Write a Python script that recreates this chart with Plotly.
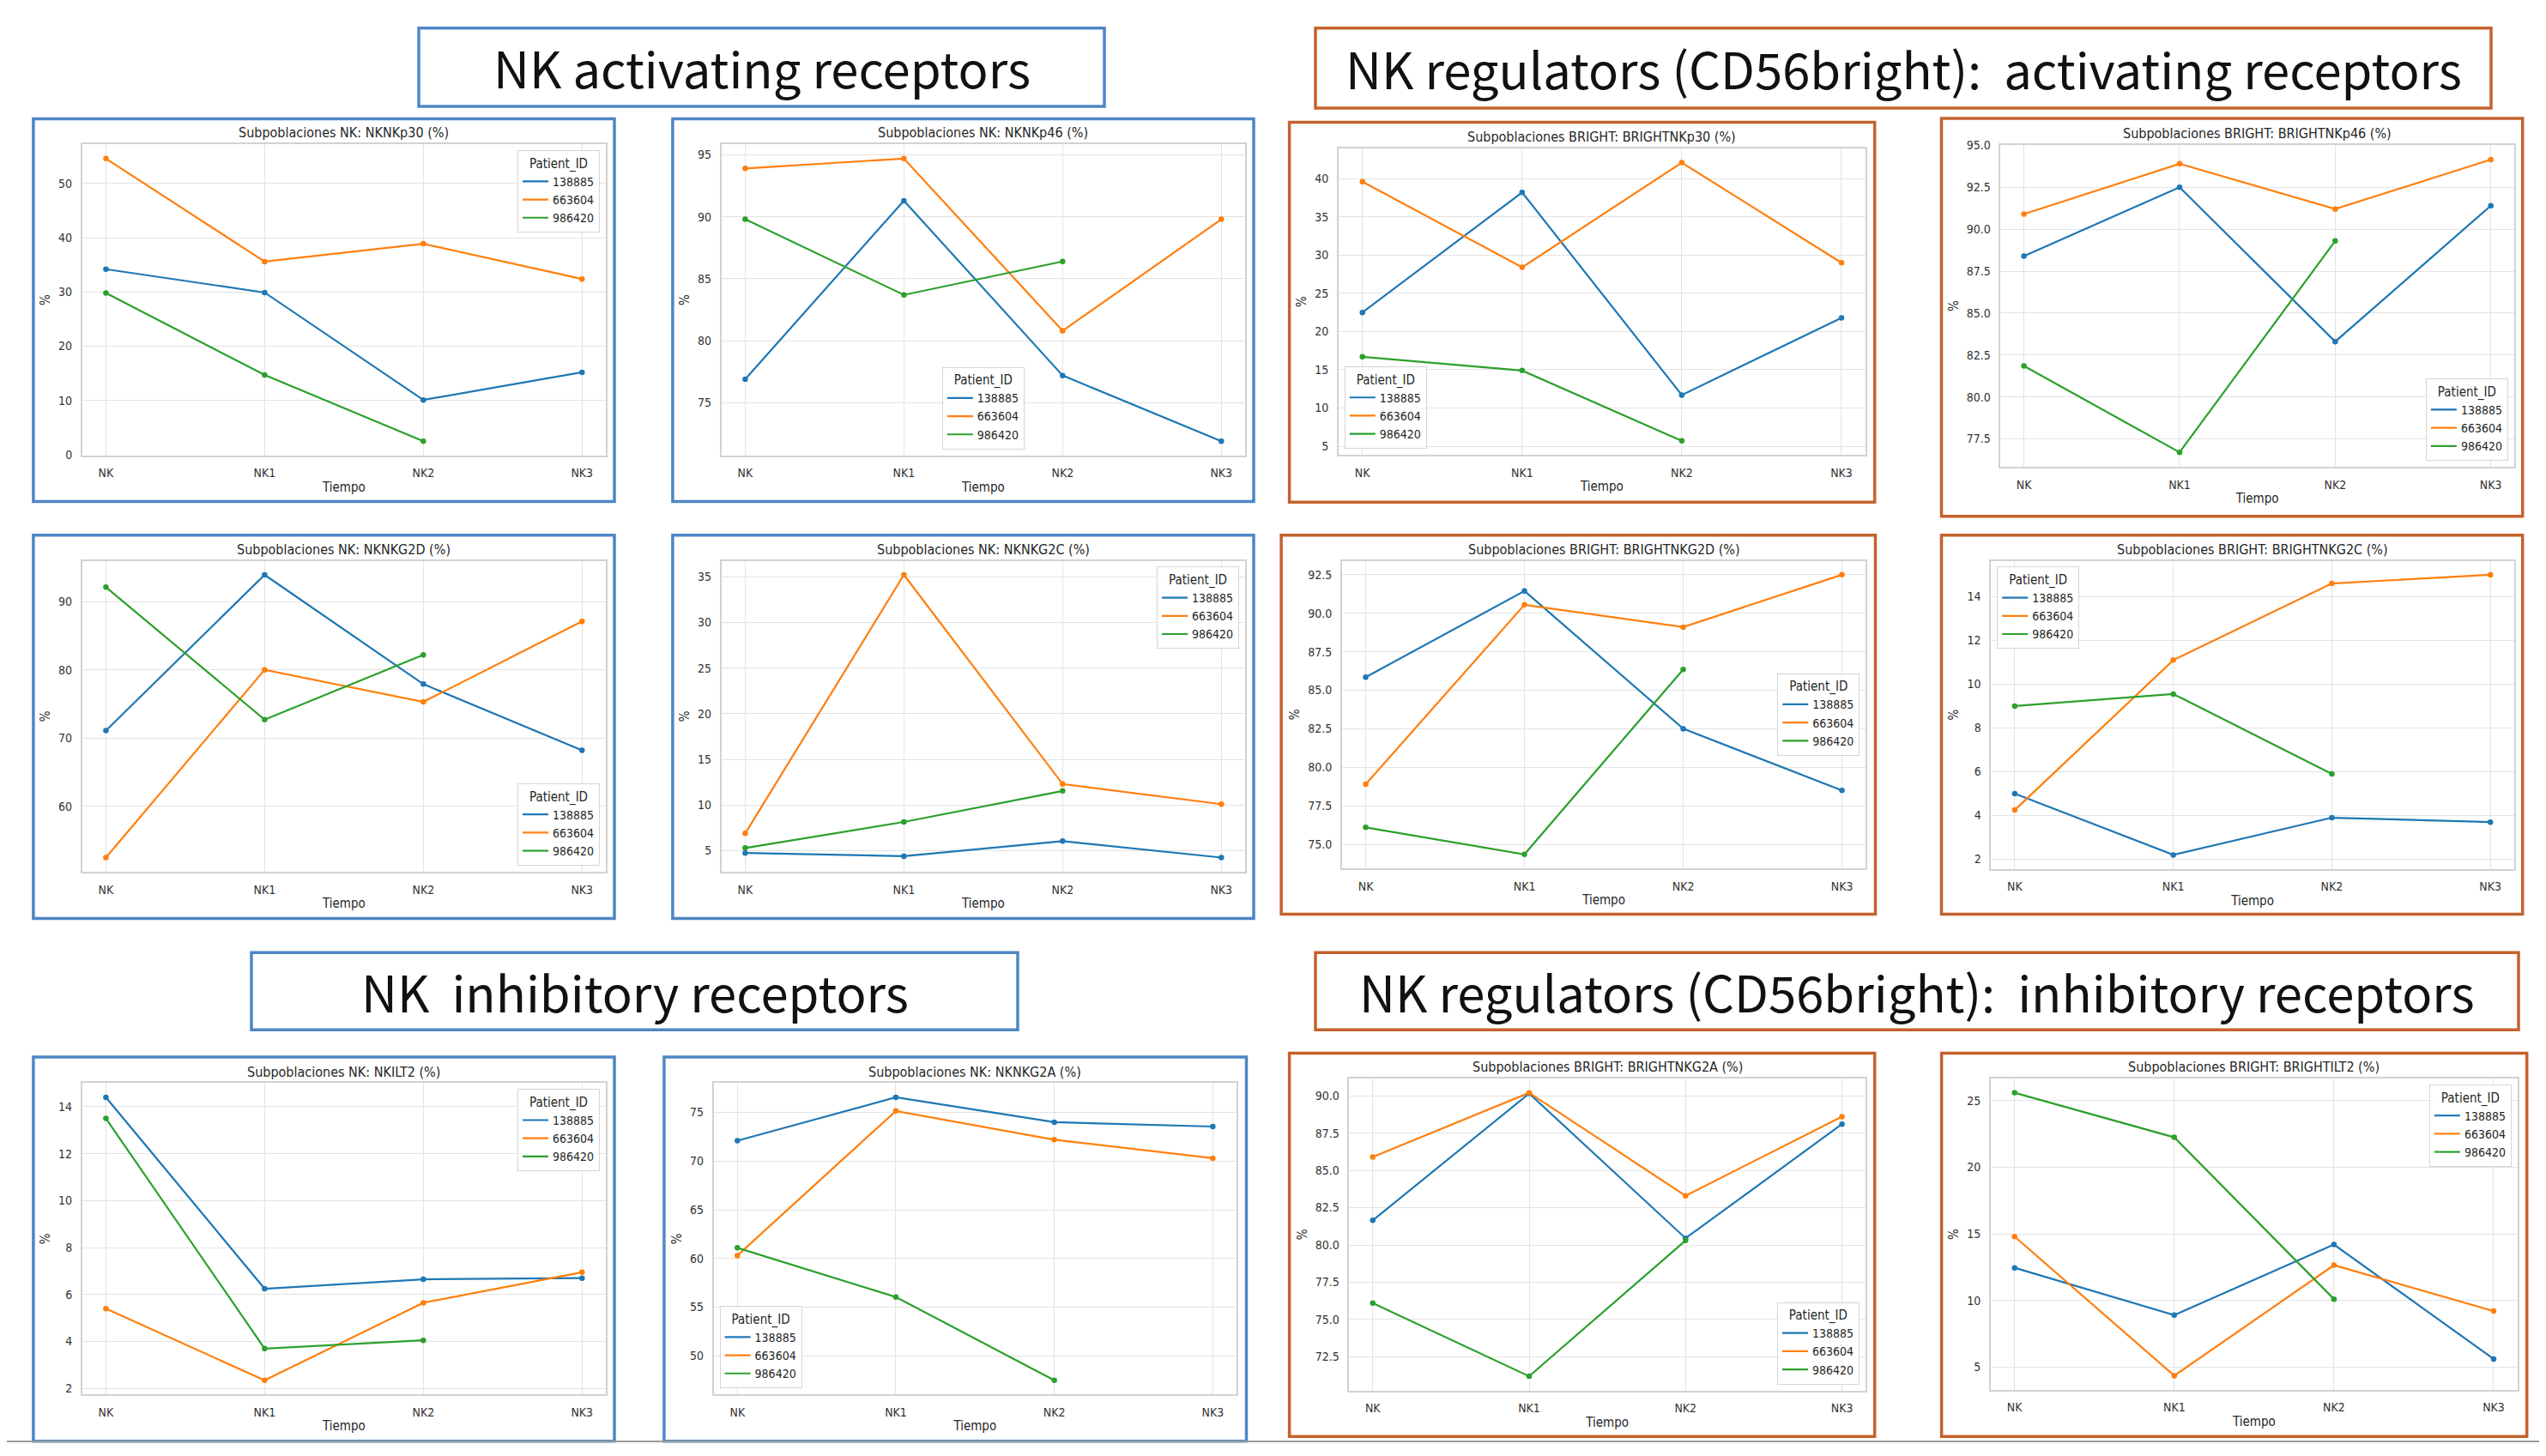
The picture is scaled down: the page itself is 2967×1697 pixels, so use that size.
import plotly.graph_objects as go

# ---------------- data ----------------
categories = ["NK", "NK1", "NK2", "NK3"]
patient_ids = ["138885", "663604", "986420"]

NKNKp30_138885 = [34.2, 29.9, 10.1, 15.2]
NKNKp30_663604 = [54.6, 35.6, 38.9, 32.4]
NKNKp30_986420 = [29.8, 14.7, 2.5, None]

NKNKp46_138885 = [76.9, 91.3, 77.2, 71.9]
NKNKp46_663604 = [93.9, 94.7, 80.8, 89.8]
NKNKp46_986420 = [89.8, 83.7, 86.4, None]

BRIGHTNKp30_138885 = [22.5, 38.2, 11.7, 21.8]
BRIGHTNKp30_663604 = [39.6, 28.4, 42.1, 29.0]
BRIGHTNKp30_986420 = [16.7, 14.9, 5.7, None]

BRIGHTNKp46_138885 = [88.4, 92.5, 83.3, 91.4]
BRIGHTNKp46_663604 = [90.9, 93.9, 91.2, 94.15]
BRIGHTNKp46_986420 = [81.85, 76.7, 89.3, None]

NKNKG2D_138885 = [71.1, 93.9, 77.9, 68.2]
NKNKG2D_663604 = [52.5, 80.0, 75.3, 87.1]
NKNKG2D_986420 = [92.1, 72.7, 82.2, None]

NKNKG2C_138885 = [4.75, 4.4, 6.05, 4.25]
NKNKG2C_663604 = [6.9, 35.2, 12.3, 10.1]
NKNKG2C_986420 = [5.3, 8.15, 11.55, None]

BRIGHTNKG2D_138885 = [85.85, 91.45, 82.5, 78.5]
BRIGHTNKG2D_663604 = [78.9, 90.55, 89.1, 92.5]
BRIGHTNKG2D_986420 = [76.1, 74.35, 86.35, None]

BRIGHTNKG2C_138885 = [5.0, 2.2, 3.9, 3.7]
BRIGHTNKG2C_663604 = [4.25, 11.1, 14.6, 15.0]
BRIGHTNKG2C_986420 = [9.0, 9.55, 5.9, None]

NKILT2_138885 = [14.4, 6.25, 6.65, 6.7]
NKILT2_663604 = [5.4, 2.35, 5.65, 6.95]
NKILT2_986420 = [13.5, 3.7, 4.05, None]

NKNKG2A_138885 = [72.1, 76.55, 74.0, 73.55]
NKNKG2A_663604 = [60.3, 75.15, 72.2, 70.3]
NKNKG2A_986420 = [61.1, 56.05, 47.5, None]

BRIGHTNKG2A_138885 = [81.65, 90.15, 80.45, 88.1]
BRIGHTNKG2A_663604 = [85.9, 90.2, 83.3, 88.6]
BRIGHTNKG2A_986420 = [76.1, 71.2, 80.3, None]

BRIGHTILT2_138885 = [12.45, 8.9, 14.2, 5.6]
BRIGHTILT2_663604 = [14.8, 4.35, 12.65, 9.2]
BRIGHTILT2_986420 = [25.6, 22.25, 10.1, None]

header_texts = [
    "NK activating receptors",
    "NK regulators (CD56bright):\u00a0 activating receptors",
    "NK\u00a0 inhibitory receptors",
    "NK regulators (CD56bright):\u00a0 inhibitory receptors",
]

# ---------------- style / layout ----------------
W, H = 2967, 1697          # target picture size
OX, OY = 8, 8              # default page (body) margin
FW, FH = W - 2 * OX, H - 2 * OY
colors = ["#1f77b4", "#ff7f0e", "#2ca02c"]
BLUE = "#4e86c6"
ORANGE = "#c4622d"
FONT = "DejaVu Sans Condensed, DejaVu Sans, sans-serif"
HFONT = "Noto Sans CJK SC, Noto Sans, sans-serif"

panels = [
    dict(title="Subpoblaciones NK: NKNKp30 (%)",
         series=[NKNKp30_138885, NKNKp30_663604, NKNKp30_986420],
         frame=(95.7, 161.7, 706, 527.3), border=(38.9, 131.7, 716, 581.7),
         bc=BLUE, dtick=10, fmt="", leg=("right", "top")),
    dict(title="Subpoblaciones NK: NKNKp46 (%)",
         series=[NKNKp46_138885, NKNKp46_663604, NKNKp46_986420],
         frame=(840.7, 161.7, 1451, 527.3), border=(783.9, 131.7, 1461, 581.7),
         bc=BLUE, dtick=5, fmt="", leg=("center", "bottom")),
    dict(title="Subpoblaciones BRIGHT: BRIGHTNKp30 (%)",
         series=[BRIGHTNKp30_138885, BRIGHTNKp30_663604, BRIGHTNKp30_986420],
         frame=(1559.8, 166.7, 2173.9, 526.7), border=(1502.6, 135.7, 2184.7, 582.3),
         bc=ORANGE, dtick=5, fmt="", leg=("left", "bottom")),
    dict(title="Subpoblaciones BRIGHT: BRIGHTNKp46 (%)",
         series=[BRIGHTNKp46_138885, BRIGHTNKp46_663604, BRIGHTNKp46_986420],
         frame=(2331.4, 162.3, 2929.9, 541), border=(2262.5, 131, 2939.7, 599),
         bc=ORANGE, dtick=2.5, fmt=".1f", leg=("right", "bottom")),
    dict(title="Subpoblaciones NK: NKNKG2D (%)",
         series=[NKNKG2D_138885, NKNKG2D_663604, NKNKG2D_986420],
         frame=(95.7, 651.3, 706, 1017), border=(38.9, 621.3, 716, 1072),
         bc=BLUE, dtick=10, fmt="", leg=("right", "bottom")),
    dict(title="Subpoblaciones NK: NKNKG2C (%)",
         series=[NKNKG2C_138885, NKNKG2C_663604, NKNKG2C_986420],
         frame=(840.7, 651.3, 1451, 1017), border=(783.9, 621.3, 1461, 1072),
         bc=BLUE, dtick=5, fmt="", leg=("right", "top")),
    dict(title="Subpoblaciones BRIGHT: BRIGHTNKG2D (%)",
         series=[BRIGHTNKG2D_138885, BRIGHTNKG2D_663604, BRIGHTNKG2D_986420],
         frame=(1563.8, 651.3, 2174.3, 1013), border=(1493.1, 621.3, 2185.5, 1067),
         bc=ORANGE, dtick=2.5, fmt=".1f", leg=("right", "middle")),
    dict(title="Subpoblaciones BRIGHT: BRIGHTNKG2C (%)",
         series=[BRIGHTNKG2C_138885, BRIGHTNKG2C_663604, BRIGHTNKG2C_986420],
         frame=(2320.2, 651.3, 2929.9, 1013.7), border=(2262.5, 621.3, 2939.7, 1067),
         bc=ORANGE, dtick=2, fmt="", leg=("left", "top")),
    dict(title="Subpoblaciones NK: NKILT2 (%)",
         series=[NKILT2_138885, NKILT2_663604, NKILT2_986420],
         frame=(95.7, 1265.7, 706, 1631.7), border=(38.9, 1235, 716, 1686.7),
         bc=BLUE, dtick=2, fmt="", leg=("right", "top")),
    dict(title="Subpoblaciones NK: NKNKG2A (%)",
         series=[NKNKG2A_138885, NKNKG2A_663604, NKNKG2A_986420],
         frame=(831.6, 1265.7, 1441, 1631.7), border=(773.9, 1235, 1452.5, 1686.7),
         bc=BLUE, dtick=5, fmt="", leg=("left", "bottom")),
    dict(title="Subpoblaciones BRIGHT: BRIGHTNKG2A (%)",
         series=[BRIGHTNKG2A_138885, BRIGHTNKG2A_663604, BRIGHTNKG2A_986420],
         frame=(1572.4, 1260.3, 2173.9, 1627), border=(1502.6, 1230.3, 2184.7, 1681.3),
         bc=ORANGE, dtick=2.5, fmt=".1f", leg=("right", "bottom")),
    dict(title="Subpoblaciones BRIGHT: BRIGHTILT2 (%)",
         series=[BRIGHTILT2_138885, BRIGHTILT2_663604, BRIGHTILT2_986420],
         frame=(2319.8, 1260.3, 2933.9, 1626.3), border=(2262.6, 1230.3, 2944.7, 1681.3),
         bc=ORANGE, dtick=5, fmt="", leg=("right", "top")),
]

headers = [
    dict(box=(488, 25, 1287, 117), bc=BLUE),
    dict(box=(1533, 25, 2903, 119), bc=ORANGE),
    dict(box=(293, 1112, 1186, 1203), bc=BLUE),
    dict(box=(1533, 1112, 2935, 1203), bc=ORANGE),
]


def px(x):
    return (x - OX) / FW


def py(y):
    return 1 - (y - OY) / FH


fig = go.Figure()
layout = dict(
    width=FW, height=FH, margin=dict(l=0, r=0, t=0, b=0),
    paper_bgcolor="white", plot_bgcolor="white",
    font=dict(family=FONT, color="#262626"),
    shapes=[], annotations=[],
)

PAD = 7
for i, p in enumerate(panels, start=1):
    suf = "" if i == 1 else str(i)
    xref, yref = "x" + suf, "y" + suf
    legname = "legend" + suf
    fx0, fy0, fx1, fy1 = p["frame"]

    vals = [v for s in p["series"] for v in s if v is not None]
    lo, hi = min(vals), max(vals)
    pad = 0.05 * (hi - lo)

    for j, s in enumerate(p["series"]):
        xs = [c for c, v in zip(categories, s) if v is not None]
        ys = [v for v in s if v is not None]
        fig.add_trace(go.Scatter(
            x=xs, y=ys, mode="lines", name=patient_ids[j],
            line=dict(color=colors[j], width=2.2),
            xaxis=xref, yaxis=yref, legend=legname, showlegend=True,
        ))
        fig.add_trace(go.Scatter(
            x=xs, y=ys, mode="markers", name=patient_ids[j],
            marker=dict(color=colors[j], size=6.5),
            xaxis=xref, yaxis=yref, showlegend=False,
        ))

    axis_common = dict(
        showgrid=True, gridcolor="#e3e3e3", gridwidth=1.2,
        showline=True, linecolor="#d2d2d2", linewidth=1.5, mirror=True,
        zeroline=False, ticks="", tickfont=dict(size=14, color="#333333"),
        ticklabelstandoff=7,
    )
    layout["xaxis" + suf] = dict(
        axis_common, type="category", categoryorder="array",
        categoryarray=categories, range=[-0.15, 3.15],
        domain=[px(fx0), px(fx1)], anchor=yref,
        title=dict(text="Tiempo", font=dict(size=15, color="#262626"), standoff=4),
    )
    layout["yaxis" + suf] = dict(
        axis_common, range=[lo - pad, hi + pad], dtick=p["dtick"], tick0=0,
        tickformat=p["fmt"], domain=[py(fy1), py(fy0)], anchor=xref,
        title=dict(text="%", font=dict(size=15, color="#262626"), standoff=6),
    )

    xa, ya = p["leg"]
    lx = {"right": fx1 - PAD, "left": fx0 + PAD, "center": (fx0 + fx1) / 2}[xa]
    ly = {"top": fy0 + PAD, "bottom": fy1 - PAD, "middle": (fy0 + fy1) / 2}[ya]
    layout[legname] = dict(
        x=px(lx), y=py(ly), xanchor=xa, yanchor=ya,
        xref="paper", yref="paper",
        bgcolor="rgba(255,255,255,0.85)", bordercolor="#d5d5d5", borderwidth=1,
        font=dict(size=14, family=FONT, color="#262626"),
        title=dict(text="Patient_ID", side="top center",
                   font=dict(size=15, family=FONT, color="#262626")),
        itemwidth=30, tracegroupgap=0,
    )

    layout["annotations"].append(dict(
        text=p["title"], x=px((fx0 + fx1) / 2), y=py(fy0 - 13.5),
        xref="paper", yref="paper", xanchor="center", yanchor="middle",
        showarrow=False, font=dict(size=16, family=FONT, color="#262626"),
    ))

    bx0, by0, bx1, by1 = p["border"]
    layout["shapes"].append(dict(
        type="rect", xref="paper", yref="paper",
        x0=px(bx0), y0=py(by1), x1=px(bx1), y1=py(by0),
        line=dict(color=p["bc"], width=3.5), fillcolor="rgba(0,0,0,0)", layer="above",
    ))

for h, txt in zip(headers, header_texts):
    x0, y0, x1, y1 = h["box"]
    layout["shapes"].append(dict(
        type="rect", xref="paper", yref="paper",
        x0=px(x0), y0=py(y1), x1=px(x1), y1=py(y0),
        line=dict(color=h["bc"], width=3.5), fillcolor="white",
    ))
    layout["annotations"].append(dict(
        text=txt, x=px((x0 + x1) / 2), y=py((y0 + y1) / 2),
        xref="paper", yref="paper", xanchor="center", yanchor="middle",
        showarrow=False, font=dict(size=58, family=HFONT, color="#111111"),
    ))

layout["shapes"].append(dict(
    type="line", xref="paper", yref="paper",
    x0=0, x1=1, y0=py(1687), y1=py(1687),
    line=dict(color="#9a9a9a", width=2),
))

fig.update_layout(**layout)
fig.write_html("out.html", config={"displayModeBar": False})
